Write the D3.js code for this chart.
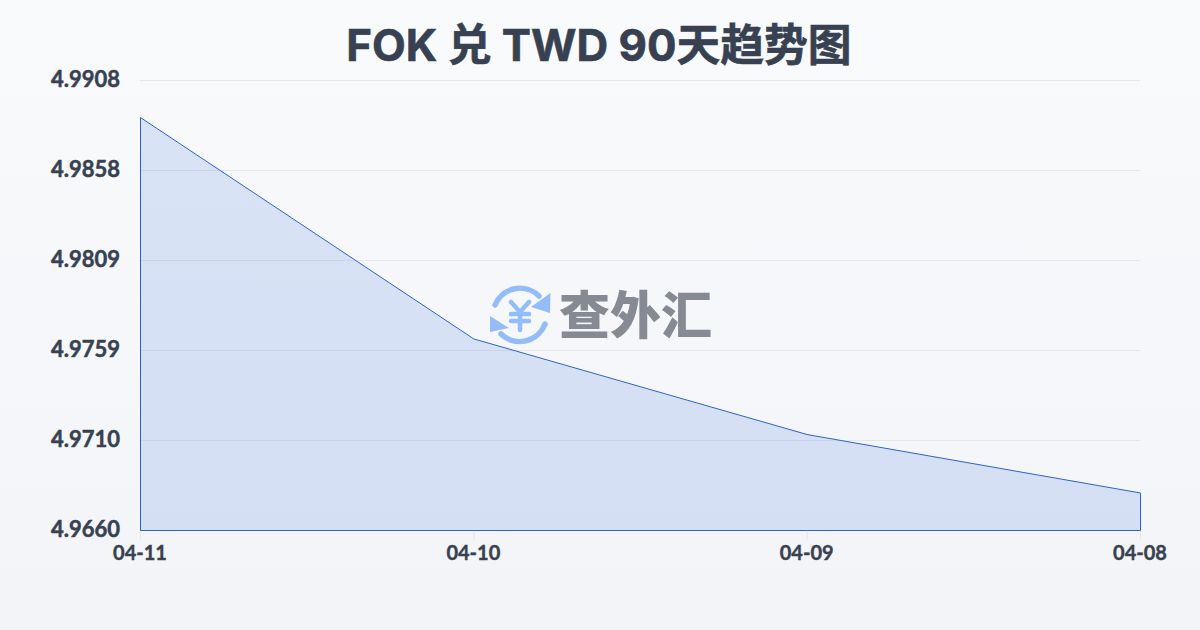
<!DOCTYPE html>
<html><head><meta charset="utf-8">
<script src="https://cdn.jsdelivr.net/npm/d3@7/dist/d3.min.js"></script>
<style>html,body{margin:0;padding:0;width:1200px;height:630px;overflow:hidden}svg{display:block}</style>
</head><body><svg id="c" width="1200" height="630"></svg>
<script>
const titleText = "FOK 兑 TWD 90天趋势图";
const categories = ["04-11","04-10","04-09","04-08"];
const rates = [4.98873,4.97653,4.97126,4.96804];
const yTickLabels = ["4.9660","4.9710","4.9759","4.9809","4.9858","4.9908"];
const yMin = 4.9660, yMax = 4.9908;
const watermarkText = "查外汇";

const font = "Lato,'Noto Sans CJK SC',sans-serif";
const svg = d3.select("#c");
const defs = svg.append("defs");
const bg = defs.append("linearGradient").attr("id","bg").attr("x1",0).attr("y1",0).attr("x2",0).attr("y2",1);
bg.append("stop").attr("offset",0).attr("stop-color","#f8fafc");
bg.append("stop").attr("offset",1).attr("stop-color","#f2f4f7");
svg.append("rect").attr("width",1200).attr("height",630).attr("fill","url(#bg)");

const x = d3.scalePoint().domain(categories).range([140,1140]);
const y = d3.scaleLinear().domain([yMin,yMax]).range([530,80]);
const tickPos = d3.scalePoint().domain(yTickLabels).range([530,80]);

svg.append("g").selectAll("line").data(yTickLabels).join("line")
  .attr("x1",140).attr("x2",1140).attr("y1",d=>tickPos(d)+.5).attr("y2",d=>tickPos(d)+.5)
  .attr("stroke","#e5e7eb").attr("stroke-width",1);
svg.append("g").selectAll("line").data(categories).join("line")
  .attr("x1",d=>x(d)+.5).attr("x2",d=>x(d)+.5).attr("y1",530).attr("y2",540)
  .attr("stroke","#e5e7eb");

const area = d3.area().x((d,i)=>x(categories[i])+.5).y0(530.5).y1(d=>y(d));
svg.append("path").datum(rates).attr("d",area)
  .attr("fill","#2a63dc").attr("fill-opacity",.15)
  .attr("stroke","#2f62c4").attr("stroke-width",1);

svg.append("g").selectAll("text").data(yTickLabels).join("text")
  .attr("x",120).attr("y",d=>tickPos(d)+7).attr("text-anchor","end")
  .attr("font-family",font).attr("font-weight",700).attr("font-size",22).attr("fill","#374151")
  .attr("stroke","#374151").attr("stroke-width",.5).text(d=>d);
svg.append("g").selectAll("text").data(categories).join("text")
  .attr("x",d=>x(d)).attr("y",560).attr("text-anchor","middle")
  .attr("font-family",font).attr("font-weight",700).attr("font-size",20).attr("fill","#374151")
  .attr("stroke","#374151").attr("stroke-width",.4).text(d=>d);
svg.append("text").attr("x",599).attr("y",61).attr("text-anchor","middle")
  .attr("font-family","Inter,'Noto Sans CJK SC',sans-serif").attr("font-weight",700).attr("font-size",43.8).attr("fill","#374151")
  .attr("stroke","#374151").attr("stroke-width",.6).text(titleText);

// watermark
const wm = svg.append("g");
const blue = "#94bcf8";
const g = wm.append("g").attr("transform","translate(520,315)");
g.append("path").attr("d","M-25,-10 A27,27 0 0 1 19,-19").attr("fill","none").attr("stroke",blue).attr("stroke-width",5.5).attr("stroke-linecap","round");
g.append("path").attr("d","M30.5,-22 L30,-2 L11,-8 Z").attr("fill",blue);
g.append("path").attr("d","M25,9 A27,27 0 0 1 -19,19").attr("fill","none").attr("stroke",blue).attr("stroke-width",5.5).attr("stroke-linecap","round");
g.append("path").attr("d","M-30,1 L-30,17 L-11,13 Z").attr("fill",blue);
g.append("path").attr("d","M-9,-13 L0,-3 L9,-13 M-9,-1 H9 M-9,6 H9 M0,-3 V15").attr("fill","none").attr("stroke",blue).attr("stroke-width",4.5).attr("stroke-linecap","round");
wm.append("text").attr("x",559).attr("y",334).attr("font-family","'Noto Sans CJK SC'").attr("font-weight",900).attr("font-size",51).attr("fill","#868b93").text(watermarkText);
</script></body></html>
